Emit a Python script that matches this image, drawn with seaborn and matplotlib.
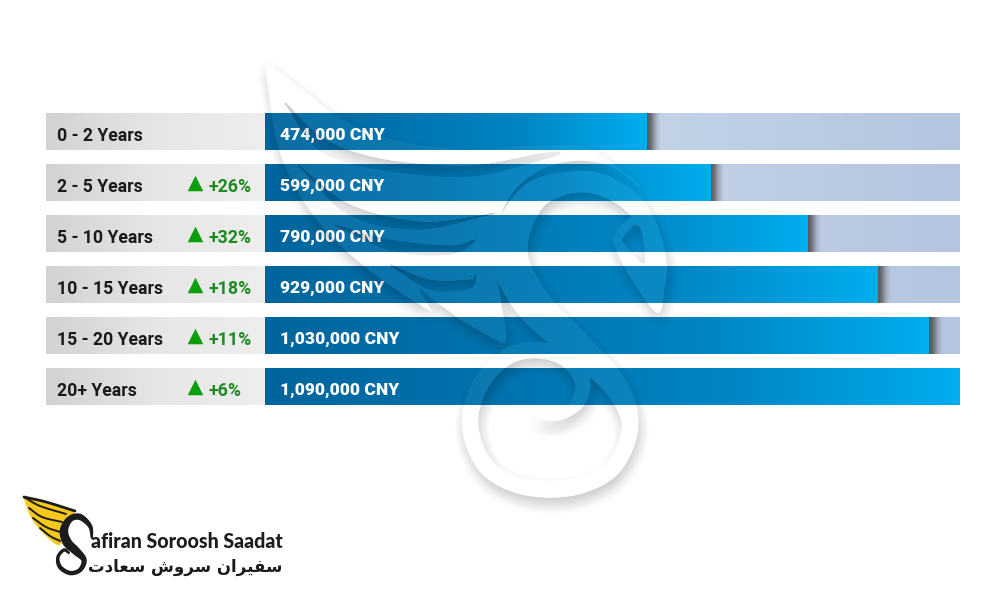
import numpy as np
import pandas as pd
import seaborn as sns
import matplotlib.pyplot as plt
from matplotlib.backends.backend_agg import FigureCanvasAgg
from matplotlib.colors import LinearSegmentedColormap
from matplotlib.figure import Figure

# chart data
experience = ['0 - 2 Years', '2 - 5 Years', '5 - 10 Years', '10 - 15 Years', '15 - 20 Years', '20+ Years']
salary = [474000, 599000, 790000, 929000, 1030000, 1090000]
change = [None, '+26%', '+32%', '+18%', '+11%', '+6%']

# the bars in the picture do not start at zero
axis_start = -280000

W, H = 1000, 600


def smooth(points, n=24):
    # Catmull-Rom through outline points, only used for the decoration
    p = np.array(points, dtype=float)
    p = np.vstack([2 * p[0] - p[1], p, 2 * p[-1] - p[-2]])
    out = []
    t = np.linspace(0, 1, n, endpoint=False)[:, None]
    for i in range(1, len(p) - 2):
        a, b, c, d = p[i - 1], p[i], p[i + 1], p[i + 2]
        out.append(0.5 * (2 * b + (c - a) * t + (2 * a - 5 * b + 4 * c - d) * t ** 2
                          + (3 * b - a - 3 * c + d) * t ** 3))
    out.append(p[-2][None, :])
    return np.vstack(out)


def ribbon(points, widths, n=24):
    # variable width band around a centre line, returned as one outline
    line = smooth(points, n)
    w = np.interp(np.linspace(0, len(points) - 1, len(line)), np.arange(len(points)), widths)
    d = np.gradient(line, axis=0)
    d /= np.maximum(np.linalg.norm(d, axis=1, keepdims=True), 1e-6)
    normal = np.column_stack([-d[:, 1], d[:, 0]]) * (w / 2)[:, None]
    return np.vstack([line + normal, (line - normal)[::-1]])


def box_blur(img, r):
    for axis in (0, 1):
        kernel = np.ones(2 * r + 1) / (2 * r + 1)
        img = np.apply_along_axis(lambda v: np.convolve(v, kernel, mode='same'), axis, img)
    return img


def watermark_mask():
    # white swan shape behind the glass effect
    f = Figure(figsize=(W / 100, H / 100), dpi=100, facecolor='black')
    a = f.add_axes([0, 0, 1, 1])
    a.set_xlim(0, W)
    a.set_ylim(H, 0)
    a.axis('off')
    top = smooth([(265, 62), (300, 88), (345, 122), (400, 142), (470, 150), (540, 146), (590, 150), (640, 185)])
    low = smooth([(640, 185), (600, 162), (550, 165), (510, 195), (492, 250), (500, 300), (500, 345),
                  (430, 310), (360, 262), (312, 212), (280, 150), (265, 62)])
    a.fill(*np.vstack([top, low]).T, color='white')
    # gaps between the feathers
    for gap in ([(285, 103), (325, 140), (385, 160), (470, 166), (540, 154), (560, 153),
                 (540, 160), (470, 176), (385, 170), (320, 150)],
                [(298, 165), (350, 205), (420, 222), (480, 216), (490, 214), (420, 229), (350, 215)],
                [(335, 225), (390, 240), (450, 246), (475, 240), (450, 254), (390, 250)],
                [(390, 265), (430, 280), (470, 280), (475, 275), (470, 288), (430, 289)],
                [(420, 290), (460, 320), (495, 340), (505, 345), (470, 340), (440, 320)]):
        a.fill(*smooth(gap + [gap[0]]).T, color='black')
    # neck, ring and spiral
    neck_pts = [(658, 312), (660, 262), (640, 212), (605, 186), (567, 183), (530, 200), (509, 250), (530, 300),
                (575, 345), (615, 385), (630, 425), (615, 465), (585, 484), (550, 489), (515, 484), (485, 465),
                (470, 425), (480, 385), (505, 358), (535, 350), (565, 358), (582, 380), (578, 402), (558, 416),
                (535, 417)]
    neck_w = [2, 12, 18, 20, 20, 28, 36, 35, 30, 22, 15, 15, 15, 16, 15, 15, 15, 15, 15, 15, 15, 14, 12, 8, 2]
    a.fill(*ribbon(neck_pts, neck_w).T, color='white')
    # head with the eye cut out
    a.fill(*smooth([(612, 240), (625, 222), (648, 218), (662, 270), (658, 312), (628, 272), (612, 240)]).T, color='white')
    a.fill(*smooth([(622, 240), (634, 226), (641, 232), (644, 262), (632, 252), (622, 240)]).T, color='black')
    c = FigureCanvasAgg(f)
    c.draw()
    return np.asarray(c.buffer_rgba())[:, :, 0] / 255.0


sns.set_theme(style='white')
plt.rcParams['font.family'] = ['Roboto', 'DejaVu Sans']

df = pd.DataFrame({'experience': experience, 'salary': salary, 'from_start': np.array(salary) - axis_start})
full = max(salary) - axis_start

fig = plt.figure(figsize=(W / 100, H / 100), dpi=100, facecolor='white')
ax_label = fig.add_axes([0.046, (H - 412) / H, 0.219, 306 / H])
ax = fig.add_axes([0.265, (H - 412) / H, 0.694, 306 / H])

bar_h = 0.725
panel_cmap = LinearSegmentedColormap.from_list('panel', ['#d2d2d2', '#e6e6e6', '#eeeeee'])
track_cmap = LinearSegmentedColormap.from_list('track', ['#d6e2ef', '#c4d4e8', '#b5c5e0'])
bar_cmap = LinearSegmentedColormap.from_list('bar', ['#00659d', '#0073ae', '#0085c4', '#00aeef'])
shadow_cmap = LinearSegmentedColormap.from_list('shadow', [(0.25, 0.25, 0.25, 0.9), (0.3, 0.3, 0.3, 0.7),
                                                           (0.4, 0.4, 0.4, 0.3), (0.5, 0.5, 0.5, 0.0)])
ramp = np.linspace(0, 1, 256)[None, :]


def fill_gradient(axes, patches, cmap, zorder=2):
    # paint each seaborn bar with a horizontal ramp
    for patch in patches:
        x0, y0 = patch.get_x(), patch.get_y()
        im = axes.imshow(ramp, cmap=cmap, aspect='auto', zorder=zorder,
                         extent=(x0, x0 + patch.get_width(), y0 + patch.get_height(), y0))
        im.set_clip_path(patch)
        patch.set_facecolor('none')


# left panels with the labels
sns.barplot(data=df.assign(one=1), x='one', y='experience', width=bar_h, ax=ax_label, color='#e6e6e6')
fill_gradient(ax_label, list(ax_label.patches), panel_cmap)
ax_label.set_xlim(0, 1)
ax_label.set_ylim(5.5, -0.5)
ax_label.axis('off')
for i, name in enumerate(experience):
    ax_label.annotate(name, (0.05, i), xytext=(0, -3.5), textcoords='offset points', va='center', ha='left',
                      fontsize=12.7, fontweight='bold', color='#1a1a1a', zorder=5)
    if change[i]:
        ax_label.scatter([0.68], [i], marker='^', s=125, color='#0a9f0a', linewidths=0, zorder=5)
        ax_label.annotate(change[i], (0.744, i), xytext=(0, -3), textcoords='offset points', va='center', ha='left',
                          fontsize=12.8, fontweight='bold', color='#1f8a1f', zorder=5)

# background track, then the salary bars
sns.barplot(data=df.assign(full=full), x='full', y='experience', width=bar_h, ax=ax, color='#c4d4e8')
track = list(ax.patches)
fill_gradient(ax, track, track_cmap, zorder=1)
sns.barplot(data=df, x='from_start', y='experience', width=bar_h, ax=ax, color='#0090d0')
bars = list(ax.patches)[len(track):]
for patch in bars:
    # soft shadow at the end of the bar
    x1 = patch.get_x() + patch.get_width()
    y0 = patch.get_y()
    if x1 < full:
        ax.imshow(ramp, cmap=shadow_cmap, aspect='auto', zorder=2,
                  extent=(x1, x1 + full * 0.02, y0 + patch.get_height(), y0))
fill_gradient(ax, bars, bar_cmap, zorder=3)
ax.set_xlim(0, full)
ax.set_ylim(5.5, -0.5)
ax.axis('off')
for i, v in enumerate(salary):
    ax.annotate(f'{v:,} CNY', (0, i), xytext=(10.8, -2.5), textcoords='offset points', va='center', ha='left',
                fontsize=12.6, fontweight='black', color='white', zorder=6)

# watermark on top of the chart
mask = watermark_mask()
shifted = np.roll(np.roll(mask, 7, axis=0), 2, axis=1)
shade = box_blur(shifted, 9) * (1 - mask)
overlay = np.zeros((H, W, 4))
overlay[..., :3] = mask[..., None]
overlay[..., 3] = np.clip(mask * 0.05 + shade * 0.22, 0, 1)
ax_top = fig.add_axes([0, 0, 1, 1], zorder=5)
ax_top.set_xlim(0, W)
ax_top.set_ylim(H, 0)
ax_top.axis('off')
ax_top.patch.set_alpha(0)
ax_top.imshow(overlay, extent=(0, W, H, 0), aspect='auto', zorder=1)

# logo, bottom left
wing = smooth([(24, 497), (45, 504), (73, 511), (64, 522), (60, 544), (46, 535), (32, 518), (24, 497)], n=10)
ax_top.fill(*wing.T, color='#f7c91f', zorder=3)
for feather, lw in (([(24, 497), (40, 506), (66, 514)], 1.4), ([(29, 508), (42, 517), (62, 522)], 1.4),
                    ([(33, 518), (46, 527), (60, 532)], 1.4), ([(40, 528), (50, 536), (60, 541)], 1.4),
                    ([(24, 497), (46, 502), (75, 511)], 2.0)):
    ax_top.plot(*smooth(feather).T, color='#1c1c1c', lw=lw, zorder=4)
swan_pts = [(92, 538), (90, 526), (80, 517), (70, 519), (64, 530), (67, 542), (76, 551), (84, 560), (80, 570),
            (70, 573), (60, 567), (58, 557), (64, 550), (69, 553)]
swan_w = [1, 3, 5, 5, 7, 8, 7, 4, 3, 3, 3, 2, 2, 1]
ax_top.fill(*ribbon(swan_pts, swan_w).T, color='#1c1c1c', zorder=5)
ax_top.text(91, 548, 'afiran Soroosh Saadat', ha='left', va='baseline', fontsize=14.1, fontweight='black',
            color='#1c1c1c', family=['Lato', 'DejaVu Sans'], zorder=5)
# Arabic shaped by hand, matplotlib does not join the letters itself
persian = '\uFE95\uFEA9\uFE8E\uFECC\uFEB3 \uFEB5\uFEED\uFEAE\uFEB3 \uFEE5\uFE8D\uFEAE\uFBFF\uFED4\uFEB3'
ax_top.text(282, 572, persian, ha='right', va='baseline', fontsize=12, fontweight='bold',
            color='#1c1c1c', family=['DejaVu Sans'], zorder=5)

fig.savefig('out.png', dpi=100)
